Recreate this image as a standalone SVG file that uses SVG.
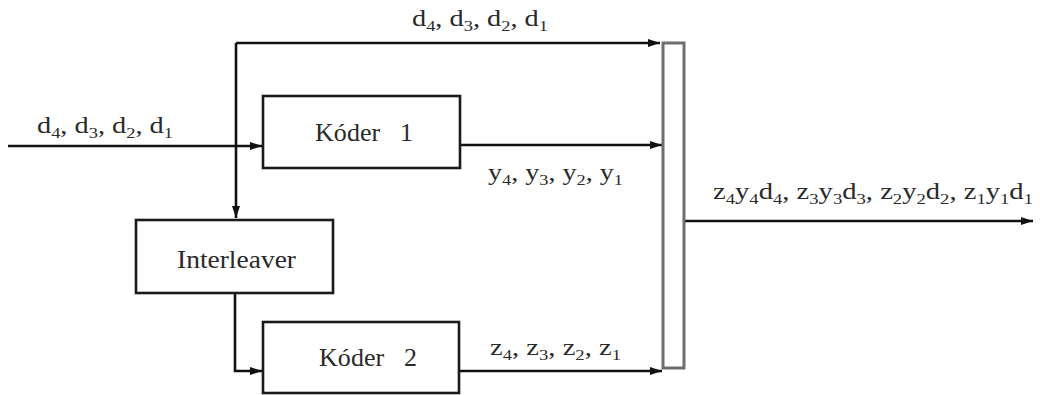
<svg xmlns="http://www.w3.org/2000/svg" width="1040" height="395" viewBox="0 0 1040 395">
<style>
.box{fill:#fff;stroke:#1a1a1a;stroke-width:2.6}
.mux{fill:#fff;stroke:#6e6e6e;stroke-width:3}
.ln{fill:none;stroke:#111;stroke-width:2.6}
.lbl{font-family:"Liberation Serif","Times New Roman",serif;font-size:23px;fill:#2a2a2a}
.blbl{font-family:"Liberation Serif","Times New Roman",serif;font-size:26px;fill:#2a2a2a;white-space:pre}
.sub{font-size:15px}
</style>
<defs>
<marker id="ah" viewBox="0 0 12 8" refX="12" refY="4" markerWidth="12" markerHeight="8" markerUnits="userSpaceOnUse" orient="auto">
<path d="M0,0 L12,4 L0,8 z" fill="#111"/>
</marker>
</defs>
<rect width="1040" height="395" fill="#fff"/>
<g id="connectors">
<path class="ln" d="M236,43 H660" marker-end="url(#ah)"/>
<path class="ln" d="M236,43 V218" marker-end="url(#ah)"/>
<path class="ln" d="M8,146 H262" marker-end="url(#ah)"/>
<path class="ln" d="M460,145 H662" marker-end="url(#ah)"/>
<path class="ln" d="M235,293 V371 H262" marker-end="url(#ah)"/>
<path class="ln" d="M460,371 H662" marker-end="url(#ah)"/>
<path class="ln" d="M684,221 H1033" marker-end="url(#ah)"/>
<text class="lbl" x="412" y="26" textLength="136" lengthAdjust="spacingAndGlyphs">d<tspan class="sub" dy="5">4</tspan><tspan dy="-5">, d</tspan><tspan class="sub" dy="5">3</tspan><tspan dy="-5">, d</tspan><tspan class="sub" dy="5">2</tspan><tspan dy="-5">, d</tspan><tspan class="sub" dy="5">1</tspan></text>
<text class="lbl" x="37" y="133" textLength="136" lengthAdjust="spacingAndGlyphs">d<tspan class="sub" dy="5">4</tspan><tspan dy="-5">, d</tspan><tspan class="sub" dy="5">3</tspan><tspan dy="-5">, d</tspan><tspan class="sub" dy="5">2</tspan><tspan dy="-5">, d</tspan><tspan class="sub" dy="5">1</tspan></text>
<text class="lbl" x="488" y="180" textLength="135" lengthAdjust="spacingAndGlyphs">y<tspan class="sub" dy="5">4</tspan><tspan dy="-5">, y</tspan><tspan class="sub" dy="5">3</tspan><tspan dy="-5">, y</tspan><tspan class="sub" dy="5">2</tspan><tspan dy="-5">, y</tspan><tspan class="sub" dy="5">1</tspan></text>
<text class="lbl" x="490" y="355" textLength="131" lengthAdjust="spacingAndGlyphs">z<tspan class="sub" dy="5">4</tspan><tspan dy="-5">, z</tspan><tspan class="sub" dy="5">3</tspan><tspan dy="-5">, z</tspan><tspan class="sub" dy="5">2</tspan><tspan dy="-5">, z</tspan><tspan class="sub" dy="5">1</tspan></text>
<text class="lbl" x="713" y="199" textLength="320" lengthAdjust="spacingAndGlyphs">z<tspan class="sub" dy="5">4</tspan><tspan dy="-5">y</tspan><tspan class="sub" dy="5">4</tspan><tspan dy="-5">d</tspan><tspan class="sub" dy="5">4</tspan><tspan dy="-5">, z</tspan><tspan class="sub" dy="5">3</tspan><tspan dy="-5">y</tspan><tspan class="sub" dy="5">3</tspan><tspan dy="-5">d</tspan><tspan class="sub" dy="5">3</tspan><tspan dy="-5">, z</tspan><tspan class="sub" dy="5">2</tspan><tspan dy="-5">y</tspan><tspan class="sub" dy="5">2</tspan><tspan dy="-5">d</tspan><tspan class="sub" dy="5">2</tspan><tspan dy="-5">, z</tspan><tspan class="sub" dy="5">1</tspan><tspan dy="-5">y</tspan><tspan class="sub" dy="5">1</tspan><tspan dy="-5">d</tspan><tspan class="sub" dy="5">1</tspan></text>
</g>
<g id="koder1">
<rect class="box" x="263" y="96" width="197" height="72"/>
<text class="blbl" x="315" y="141" textLength="98" lengthAdjust="spacing">Kóder   1</text>
</g>
<g id="interleaver">
<rect class="box" x="136" y="220" width="197" height="73"/>
<text class="blbl" x="177" y="268" textLength="119" lengthAdjust="spacingAndGlyphs">Interleaver</text>
</g>
<g id="koder2">
<rect class="box" x="263" y="322" width="196" height="71"/>
<text class="blbl" x="319" y="366" textLength="98" lengthAdjust="spacing">Kóder   2</text>
</g>
<g id="mux">
<rect class="mux" x="663" y="43" width="21" height="325"/>
</g>
</svg>
